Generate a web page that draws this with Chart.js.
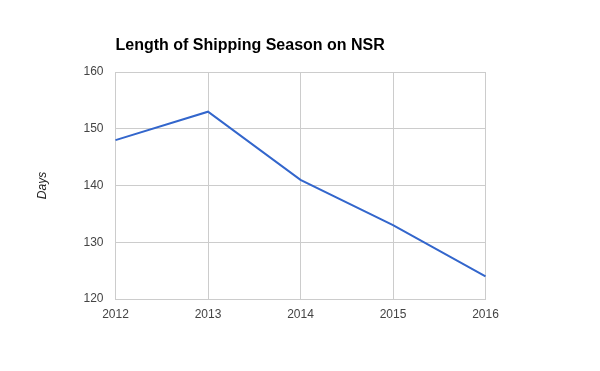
<!DOCTYPE html>
<html>
<head>
<meta charset="utf-8">
<script src="https://cdn.jsdelivr.net/npm/chart.js@4/dist/chart.umd.min.js"></script>
<style>
  html, body { margin: 0; padding: 0; background: #ffffff; }
  #wrap { width: 600px; height: 371px; position: relative; }
</style>
</head>
<body>
<div id="wrap"><canvas id="c" width="600" height="371"></canvas></div>
<script>
const years = ["2012", "2013", "2014", "2015", "2016"];
const days = [148, 153, 141, 133, 124];
const yTicks = [120, 130, 140, 150, 160];
const chartTitle = "Length of Shipping Season on NSR";
const yAxisTitle = "Days";

const FONT = "Arial, 'Liberation Sans', sans-serif";
const PLOT_LEFT = 115.5, PLOT_RIGHT = 485.5, PLOT_TOP = 72, PLOT_BOTTOM = 299;

new Chart(document.getElementById('c'), {
  type: 'line',
  data: {
    labels: years,
    datasets: [{
      label: yAxisTitle,
      data: days,
      borderColor: '#3366cc',
      borderWidth: 2,
      pointRadius: 0,
      tension: 0,
      fill: false
    }]
  },
  options: {
    responsive: false,
    animation: false,
    layout: { padding: { left: 0, right: 600 - PLOT_RIGHT, top: 0, bottom: 0 } },
    plugins: {
      legend: { display: false },
      tooltip: { enabled: false },
      title: {
        display: true,
        text: chartTitle,
        align: 'start',
        fullSize: false,
        color: '#000000',
        font: { family: FONT, size: 16, weight: 'bold', lineHeight: 1.2 },
        padding: { top: 36, bottom: PLOT_TOP - 36 - 19.2 }
      }
    },
    scales: {
      x: {
        type: 'category',
        offset: false,
        grid: { color: '#cccccc', drawTicks: false, lineWidth: 1 },
        border: { color: '#cccccc' },
        ticks: { color: '#444444', font: { family: FONT, size: 12 }, padding: 8, maxRotation: 0 },
        afterFit: (s) => { s.height = 371 - PLOT_BOTTOM; }
      },
      y: {
        min: 120,
        max: 160,
        afterBuildTicks: (s) => { s.ticks = yTicks.map(v => ({ value: v })); },
        grid: { color: '#cccccc', drawTicks: false, lineWidth: 1 },
        border: { color: '#cccccc' },
        ticks: { color: '#444444', font: { family: FONT, size: 12 }, padding: 12 },
        title: {
          display: true,
          text: yAxisTitle,
          color: '#222222',
          font: { family: FONT, size: 12, style: 'italic' },
          padding: { top: 35, bottom: 28 }
        },
        afterFit: (s) => { s.width = PLOT_LEFT; }
      }
    }
  }
});
</script>
</body>
</html>
